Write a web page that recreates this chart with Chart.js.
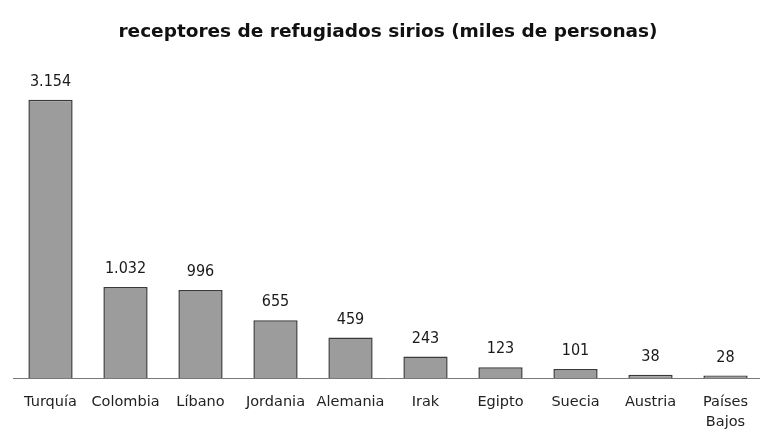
<!DOCTYPE html>
<html lang="es">
<head>
<meta charset="utf-8">
<title>receptores de refugiados sirios</title>
<script src="https://cdn.jsdelivr.net/npm/chart.js@4/dist/chart.umd.min.js"></script>
<style>
  html, body { margin: 0; padding: 0; background: #fff; overflow: hidden; }
  .chart-wrap { width: 768px; height: 429px; position: relative; }
</style>
</head>
<body>
<div class="chart-wrap"><canvas id="refugees-chart"></canvas></div>
<script>
const countries = ["Turquía", "Colombia", "Líbano", "Jordania", "Alemania", "Irak", "Egipto", "Suecia", "Austria", ["Países", "Bajos"]];
const refugees = [3154, 1032, 996, 655, 459, 243, 123, 101, 38, 28];
const yMax = 3500;

// thousands separator with a dot, even for 4-digit numbers
function formatMiles(value) {
  return String(value).replace(/\B(?=(\d{3})+(?!\d))/g, ".");
}

const valueLabels = {
  id: "valueLabels",
  afterDatasetsDraw(chart) {
    const { ctx } = chart;
    const meta = chart.getDatasetMeta(0);
    ctx.save();
    ctx.font = "16px 'DejaVu Sans Condensed', 'DejaVu Sans', sans-serif";
    ctx.fillStyle = "#1a1a1a";
    ctx.textAlign = "center";
    ctx.textBaseline = "bottom";
    meta.data.forEach((bar, i) => {
      ctx.fillText(formatMiles(refugees[i]), bar.x, bar.y - 10);
    });
    ctx.restore();
  },
};

new Chart(document.getElementById("refugees-chart"), {
  type: "bar",
  data: {
    labels: countries,
    datasets: [
      {
        data: refugees,
        backgroundColor: "#9c9c9c",
        borderColor: "#3a3a3a",
        borderWidth: 1.5,
        barPercentage: 0.59,
        categoryPercentage: 1,
      },
    ],
  },
  options: {
    responsive: true,
    maintainAspectRatio: false,
    animation: false,
    layout: { padding: { left: 13, right: 5, top: 0, bottom: 0 } },
    plugins: {
      legend: { display: false },
      tooltip: { enabled: false },
      title: {
        display: true,
        text: "receptores de refugiados sirios (miles de personas)",
        color: "#111",
        font: { family: "'DejaVu Sans', sans-serif", size: 18.5, weight: "bold" },
        padding: { top: 21, bottom: 26 },
      },
    },
    scales: {
      y: { display: false, min: 0, max: yMax },
      x: {
        grid: { display: false },
        border: { display: true, color: "#7a7a7a", width: 1, dash: [2, 3] },
        ticks: {
          color: "#222",
          padding: 6,
          maxRotation: 0,
          autoSkip: false,
          font: { family: "'DejaVu Sans', sans-serif", size: 14.5, lineHeight: 1.4 },
        },
        afterFit(scale) {
          scale.height = 51;
        },
      },
    },
  },
  plugins: [valueLabels],
});
</script>
</body>
</html>
